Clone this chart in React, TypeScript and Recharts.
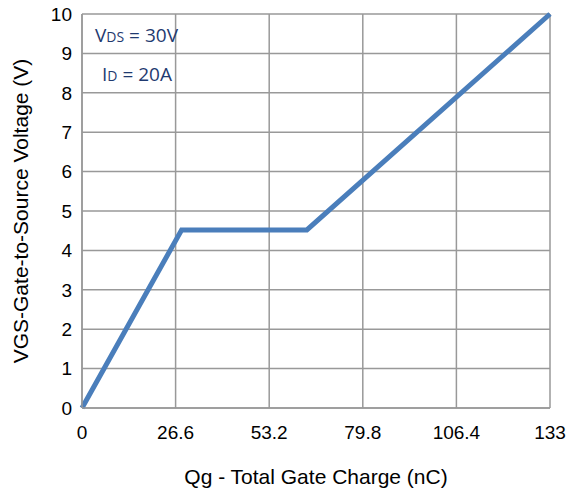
import { LineChart, Line, XAxis, YAxis, CartesianGrid, Label } from "recharts";

// gate charge curve (nC, V)
const qg = [0, 28.3, 63.9, 133];
const vgs = [0, 4.52, 4.52, 10];
const xTicks = [0, 26.6, 53.2, 79.8, 106.4, 133];
const yTicks = [0, 1, 2, 3, 4, 5, 6, 7, 8, 9, 10];

const data = qg.map((q, i) => ({ q, v: vgs[i] }));

const font = "'Liberation Sans', Arial, sans-serif";
const grid = "#999";
const note = "#1f3a70";

export default function App() {
  return (
    <div
      style={{
        position: "absolute",
        left: 0,
        top: 0,
        width: 569,
        height: 493,
        background: "#fff",
        fontFamily: font,
      }}
    >
      <LineChart
        width={569}
        height={493}
        data={data}
        margin={{ top: 14, right: 19, bottom: 0, left: 0 }}
      >
        <CartesianGrid stroke={grid} strokeWidth={1.5} />
        <XAxis
          dataKey="q"
          type="number"
          domain={[0, 133]}
          ticks={xTicks}
          height={85}
          axisLine={{ stroke: grid, strokeWidth: 1.5 }}
          tickLine={false}
          tickSize={0}
          tickMargin={18}
          tick={{ fill: "#000", fontSize: 19, fontFamily: font }}
        >
          <Label
            content={({ viewBox }: any) => (
              <text
                x={viewBox.x + viewBox.width / 2}
                y={viewBox.y + 76}
                textAnchor="middle"
                fontSize={21}
                fontFamily={font}
                fill="#000"
              >
                Qg - Total Gate Charge (nC)
              </text>
            )}
          />
        </XAxis>
        <YAxis
          type="number"
          domain={[0, 10]}
          ticks={yTicks}
          width={82}
          axisLine={{ stroke: grid, strokeWidth: 1.5 }}
          tickLine={false}
          tickSize={0}
          tickMargin={10}
          tick={{ fill: "#000", fontSize: 19, fontFamily: font }}
        >
          <Label
            content={({ viewBox }: any) => {
              const cx = 20;
              const cy = viewBox.y + viewBox.height / 2;
              return (
                <text
                  x={cx}
                  y={cy}
                  transform={`rotate(-90 ${cx} ${cy})`}
                  textAnchor="middle"
                  dominantBaseline="central"
                  fontSize={21}
                  fontFamily={font}
                  fill="#000"
                >
                  VGS-Gate-to-Source Voltage (V)
                </text>
              );
            }}
          />
        </YAxis>
        <Line
          dataKey="v"
          stroke="#4a7ebb"
          strokeWidth={5}
          dot={false}
          isAnimationActive={false}
        />
      </LineChart>
      <div
        style={{
          position: "absolute",
          left: 95,
          top: 22,
          color: note,
          fontSize: 19,
          fontFamily: "'Open Sans', 'DejaVu Sans', sans-serif",
          whiteSpace: "nowrap",
          lineHeight: "26px",
        }}
      >
        V<span style={{ fontSize: 14 }}>DS</span> = 30V
      </div>
      <div
        style={{
          position: "absolute",
          left: 102,
          top: 61,
          color: note,
          fontSize: 19,
          fontFamily: "'Open Sans', 'DejaVu Sans', sans-serif",
          whiteSpace: "nowrap",
          lineHeight: "26px",
        }}
      >
        I<span style={{ fontSize: 14 }}>D</span> = 20A
      </div>
    </div>
  );
}
